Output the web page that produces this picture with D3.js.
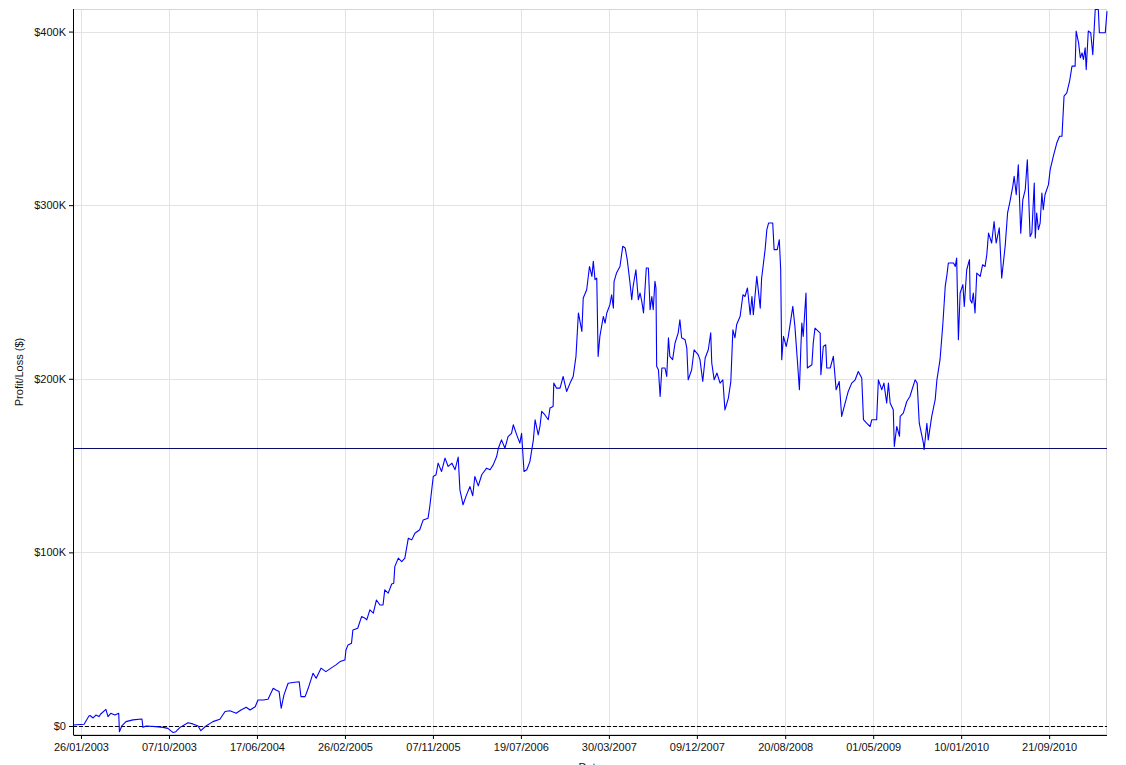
<!DOCTYPE html>
<html>
<head>
<meta charset="utf-8">
<script src="https://cdnjs.cloudflare.com/ajax/libs/d3/7.8.5/d3.min.js"></script>
<style>
  body { margin: 0; background: #fff; }
  svg { display: block; font-family: "Liberation Sans", Arial, sans-serif; }
  .axis text { font-size: 11px; fill: #111; }
  .axis path, .axis line { stroke: #000; }
  .grid line { stroke: #e3e3e3; }
</style>
</head>
<body>
<svg width="1126" height="765"></svg>
<script>
// cumulative profit/loss (thousands of dollars)
var dates = [
  "2003-01-03","2003-02-04","2003-02-18","2003-02-21","2003-03-02","2003-03-10","2003-03-19","2003-03-24","2003-04-08","2003-04-14",
  "2003-04-22","2003-05-04","2003-05-15","2003-05-17","2003-05-24","2003-06-05","2003-06-25","2003-07-21","2003-07-24","2003-08-02",
  "2003-08-30","2003-09-20","2003-10-04","2003-10-19","2003-10-27","2003-11-08","2003-12-01","2003-12-15","2003-12-30",
  "2004-01-07","2004-01-22","2004-02-11","2004-03-02","2004-03-17","2004-03-31","2004-04-18","2004-05-02","2004-05-17","2004-05-28",
  "2004-06-12","2004-06-20","2004-07-05","2004-07-19","2004-08-03","2004-08-11","2004-08-20","2004-08-26","2004-09-03","2004-09-15",
  "2004-09-29","2004-10-17","2004-10-22","2004-11-03","2004-11-12","2004-11-26","2004-12-05","2004-12-19",
  "2005-01-02","2005-01-31","2005-02-12","2005-02-26","2005-03-01","2005-03-07","2005-03-17","2005-03-21","2005-04-04","2005-04-15",
  "2005-04-25","2005-04-30","2005-05-09","2005-05-19","2005-05-28","2005-06-07","2005-06-16","2005-06-21","2005-07-01","2005-07-11",
  "2005-07-17","2005-07-20","2005-07-30","2005-08-09","2005-08-18","2005-08-28","2005-09-07","2005-09-16","2005-09-30","2005-10-10",
  "2005-10-24","2005-10-29","2005-11-08","2005-11-16","2005-11-22","2005-12-02","2005-12-12","2005-12-21",
  "2006-01-01","2006-01-10","2006-01-19","2006-01-24","2006-02-02","2006-02-12","2006-02-22","2006-03-02","2006-03-08","2006-03-18",
  "2006-03-28","2006-04-11","2006-04-21","2006-04-30","2006-05-10","2006-05-15","2006-05-24","2006-06-03","2006-06-12","2006-06-22",
  "2006-06-27","2006-07-07","2006-07-16","2006-07-21","2006-07-28","2006-08-05","2006-08-14","2006-08-24","2006-08-29","2006-09-07",
  "2006-09-12","2006-09-17","2006-09-26","2006-10-06","2006-10-11","2006-10-20","2006-10-22","2006-10-30","2006-11-09","2006-11-18",
  "2006-11-28","2006-12-08","2006-12-17","2006-12-25",
  "2007-01-01","2007-01-11","2007-01-15","2007-01-25","2007-02-02","2007-02-09","2007-02-13","2007-02-18","2007-02-23","2007-02-27",
  "2007-03-04","2007-03-14","2007-03-19","2007-03-24","2007-04-02","2007-04-07","2007-04-12","2007-04-14","2007-04-21","2007-05-01",
  "2007-05-09","2007-05-16","2007-05-22","2007-05-30","2007-06-04","2007-06-08","2007-06-16","2007-06-23","2007-06-28","2007-07-03",
  "2007-07-08","2007-07-16","2007-07-22","2007-07-27","2007-08-01","2007-08-05","2007-08-10","2007-08-13","2007-08-15","2007-08-20",
  "2007-08-25","2007-08-30","2007-09-08","2007-09-13","2007-09-18","2007-09-22","2007-09-30","2007-10-07","2007-10-16","2007-10-21",
  "2007-10-26","2007-11-05","2007-11-10","2007-11-14","2007-11-24","2007-12-01","2007-12-13","2007-12-18","2007-12-26",
  "2008-01-02","2008-01-11","2008-01-18","2008-01-21","2008-01-28","2008-02-05","2008-02-14","2008-02-22","2008-02-28","2008-03-09",
  "2008-03-16","2008-03-22","2008-03-28","2008-04-02","2008-04-12","2008-04-20","2008-04-26","2008-05-03","2008-05-11","2008-05-16",
  "2008-05-20","2008-05-30","2008-06-09","2008-06-13","2008-06-23","2008-06-28","2008-07-03","2008-07-15","2008-07-19","2008-07-28",
  "2008-08-03","2008-08-07","2008-08-10","2008-08-15","2008-08-23","2008-08-29","2008-09-11","2008-09-17","2008-09-24","2008-09-30",
  "2008-10-04","2008-10-07","2008-10-11","2008-10-19","2008-10-23","2008-11-05","2008-11-09","2008-11-14","2008-11-29","2008-12-01",
  "2008-12-08","2008-12-15","2008-12-18","2008-12-28",
  "2009-01-06","2009-01-14","2009-01-23","2009-01-30","2009-02-09","2009-02-18","2009-02-28","2009-03-10","2009-03-19","2009-03-29",
  "2009-04-03","2009-04-12","2009-04-22","2009-04-27","2009-05-11","2009-05-16","2009-05-26","2009-06-01","2009-06-09","2009-06-14",
  "2009-06-19","2009-06-28","2009-07-01","2009-07-08","2009-07-16","2009-07-18","2009-07-27","2009-08-06","2009-08-15","2009-08-30",
  "2009-09-05","2009-09-11","2009-09-23","2009-09-25","2009-10-03","2009-10-07","2009-10-17","2009-10-27","2009-11-01","2009-11-10",
  "2009-11-18","2009-11-25","2009-11-30","2009-12-04","2009-12-19","2009-12-24","2009-12-28",
  "2010-01-02","2010-01-07","2010-01-15","2010-01-19","2010-01-26","2010-02-03","2010-02-05","2010-02-10","2010-02-14","2010-02-19",
  "2010-02-24","2010-03-06","2010-03-13","2010-03-20","2010-03-25","2010-03-30","2010-04-08","2010-04-15","2010-04-21","2010-04-30",
  "2010-05-07","2010-05-17","2010-05-24","2010-05-31","2010-06-08","2010-06-12","2010-06-18","2010-06-24","2010-07-01","2010-07-07",
  "2010-07-14","2010-07-20","2010-07-28","2010-08-02","2010-08-09","2010-08-12","2010-08-16","2010-08-21","2010-08-26","2010-08-31",
  "2010-09-04","2010-09-09","2010-09-19","2010-09-24","2010-10-03","2010-10-13","2010-10-21","2010-10-28","2010-11-03","2010-11-11",
  "2010-11-19","2010-11-26","2010-12-05","2010-12-08","2010-12-15","2010-12-20","2010-12-25","2010-12-29",
  "2011-01-03","2011-01-06","2011-01-12","2011-01-19","2011-01-25","2011-02-01","2011-02-10","2011-02-13","2011-03-02","2011-03-07"
];

var profitK = [
  0.6,1.0,5.8,6.0,4.6,6.3,5.4,6.9,9.6,5.4,
  7.3,6.3,7.3,-3.3,0.0,2.5,3.5,4.0,-0.8,0.0,
  -0.4,-0.8,-1.4,-3.8,-3.3,-0.8,1.9,1.2,0.0,
  -2.7,0.0,2.5,3.9,8.3,8.8,7.3,9.2,10.8,9.2,
  11.1,15.0,15.0,15.4,21.7,20.7,19.8,10.2,17.9,24.6,
  25.0,25.5,16.9,16.9,21.7,30.4,27.5,33.3,
  31.3,35.2,37.1,38.0,43.8,46.7,47.7,55.3,56.3,63.0,
  62.1,61.1,66.9,65.0,72.6,69.7,69.7,78.4,76.5,81.8,
  82.2,91.8,96.7,94.7,96.7,108.2,107.2,111.0,113.0,118.7,
  119.7,126.4,143.7,144.7,151.4,146.6,154.3,149.5,
  151.4,147.6,154.9,136.0,127.4,133.1,137.9,132.6,143.7,138.3,
  144.7,148.5,147.6,150.4,155.2,160.0,164.8,160.0,166.7,168.6,
  173.5,167.7,162.9,168.6,146.6,147.6,152.3,164.8,176.4,167.7,
  172.5,181.2,179.3,176.4,183.1,184.0,197.5,194.6,194.6,201.3,
  192.7,197.5,201.3,212.9,
  237.9,227.3,246.5,251.3,264.7,259.0,267.6,257.1,258.0,212.9,
  224.4,235.9,232.1,237.9,242.7,248.4,240.7,256.1,260.9,264.7,
  276.3,275.3,268.6,255.2,245.5,253.2,262.8,245.5,249.4,244.6,
  237.9,263.8,263.8,239.8,247.4,239.8,256.1,252.3,207.1,205.2,
  189.8,206.2,206.2,201.3,223.6,212.9,211.0,220.6,226.3,234.0,
  223.6,222.5,217.7,199.4,205.2,216.7,213.8,211.0,198.4,
  212.0,216.7,226.5,209.1,199.4,203.3,197.5,199.4,182.1,188.9,
  198.4,228.2,223.6,231.3,236.0,248.4,247.4,252.3,236.9,247.4,
  236.9,259.0,240.7,258.0,274.4,285.9,289.7,289.7,274.4,274.4,
  280.1,262.8,211.0,224.4,218.6,224.4,241.7,230.2,211.0,193.7,
  216.7,232.1,224.4,249.4,206.2,208.1,220.6,229.2,226.3,202.3,
  218.6,219.6,206.2,206.2,
  212.9,193.7,198.4,178.3,186.0,192.7,197.5,199.4,204.2,200.4,
  176.4,174.4,172.5,176.4,176.4,199.4,193.7,197.5,186.0,197.5,
  186.0,182.1,161.0,172.5,166.9,178.3,180.2,186.9,189.8,199.4,
  197.5,174.4,162.9,159.1,174.4,164.8,178.3,188.0,199.4,211.0,
  231.1,253.2,260.0,266.7,266.7,264.7,269.5,
  222.5,249.4,254.2,241.7,262.8,268.6,245.5,243.6,249.4,237.9,
  260.9,259.0,265.7,264.7,271.5,283.9,278.2,290.6,278.2,286.9,
  258.0,276.3,295.5,302.2,310.8,316.6,306.0,323.3,283.9,303.2,
  309.0,326.2,282.0,283.9,312.8,281.1,295.5,285.9,289.7,307.0,
  297.4,306.0,311.8,320.5,328.1,335.8,339.7,339.7,362.8,364.7,
  371.4,380.1,380.1,400.3,393.5,384.9,387.7,383.9,
  390.6,378.1,400.3,399.3,386.7,412.7,412.7,399.3,399.3,411.7
];

var tickDates = ["2003-01-26","2003-10-07","2004-06-17","2005-02-26","2005-11-07","2006-07-19",
                 "2007-03-30","2007-12-09","2008-08-20","2009-05-01","2010-01-10","2010-09-21"];
var tickValuesK = [0, 100, 200, 300, 400];
var yRangeK = [-5.2, 413];
var zeroLineK = 0;
var levelLineK = 160;

var svg = d3.select("svg"),
    margin = {top: 9, right: 19, bottom: 30, left: 73},
    width = svg.attr("width") - margin.left - margin.right,
    height = svg.attr("height") - margin.top - margin.bottom,
    g = svg.append("g").attr("transform", "translate(" + margin.left + "," + margin.top + ")");

var parseTime = d3.timeParse("%Y-%m-%d");

var data = dates.map(function(d, i) { return {date: parseTime(d), v: profitK[i]}; });

var x = d3.scaleTime().range([0, width]).domain(d3.extent(data, function(d) { return d.date; })),
    y = d3.scaleLinear().range([height, 0]).domain(yRangeK);

var ticksX = tickDates.map(parseTime);

// grid
g.append("g").attr("class", "grid")
  .selectAll("line.v").data(ticksX).enter().append("line")
    .attr("x1", function(d) { return Math.round(x(d)) + 0.5; })
    .attr("x2", function(d) { return Math.round(x(d)) + 0.5; })
    .attr("y1", 0).attr("y2", height);

g.select(".grid")
  .selectAll("line.h").data(tickValuesK).enter().append("line")
    .attr("y1", function(d) { return Math.round(y(d)) + 0.5; })
    .attr("y2", function(d) { return Math.round(y(d)) + 0.5; })
    .attr("x1", 0).attr("x2", width);

// panel border (light), axes drawn over it
g.append("rect")
  .attr("x", 0.5).attr("y", 0.5)
  .attr("width", width - 1).attr("height", height - 1)
  .attr("fill", "none").attr("stroke", "#d6d6d6");

// reference lines
g.append("line")
  .attr("x1", 0).attr("x2", width)
  .attr("y1", Math.round(y(zeroLineK)) + 0.5).attr("y2", Math.round(y(zeroLineK)) + 0.5)
  .attr("stroke", "#000").attr("stroke-dasharray", "4 2");

g.append("line")
  .attr("x1", 0).attr("x2", width)
  .attr("y1", Math.round(y(levelLineK)) + 0.5).attr("y2", Math.round(y(levelLineK)) + 0.5)
  .attr("stroke", "#0a0a6e");

var line = d3.line()
  .x(function(d) { return x(d.date); })
  .y(function(d) { return y(d.v); });

g.append("path")
  .datum(data)
  .attr("d", line)
  .attr("fill", "none")
  .attr("stroke", "#0000ff")
  .attr("stroke-width", 1.1)
  .attr("stroke-linejoin", "round");

// axes
g.append("g")
  .attr("class", "axis axis--x")
  .attr("transform", "translate(0," + height + ")")
  .call(d3.axisBottom(x).tickValues(ticksX).tickFormat(d3.timeFormat("%d/%m/%Y")).tickSizeOuter(0).tickSize(4).tickPadding(4))
  .call(function(a) { a.select(".domain").attr("d", "M0.5,0.5H" + width); });

g.append("g")
  .attr("class", "axis axis--y")
  .call(d3.axisLeft(y).tickValues(tickValuesK)
    .tickFormat(function(d) { return d === 0 ? "$0" : "$" + d + "K"; })
    .tickSizeOuter(0).tickSize(4).tickPadding(3))
  .call(function(a) { a.select(".domain").attr("d", "M0.5,0V" + height); });

svg.append("text")
  .attr("transform", "translate(23," + (margin.top + height / 2) + ") rotate(-90)")
  .attr("text-anchor", "middle")
  .style("font-size", "11px")
  .attr("fill", "#111")
  .text("Profit/Loss ($)");

svg.append("text")
  .attr("x", margin.left + width / 2)
  .attr("y", 771)
  .attr("text-anchor", "middle")
  .style("font-size", "11px")
  .attr("fill", "#111")
  .text("Date");
</script>
</body>
</html>
